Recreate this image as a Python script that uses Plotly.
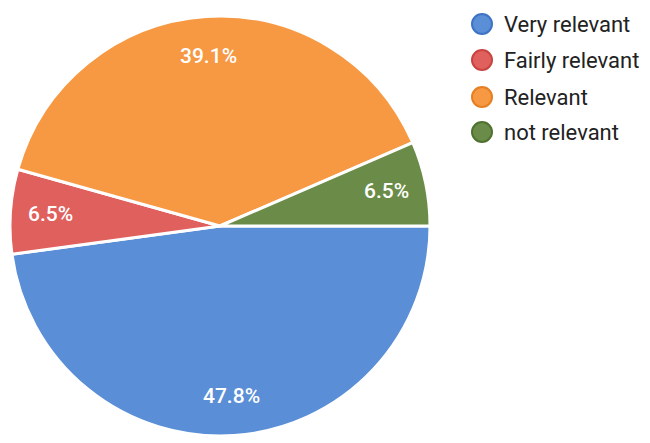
import math
import plotly.graph_objects as go

categories = ["Very relevant", "Fairly relevant", "Relevant", "not relevant"]
values = [47.8, 6.5, 39.1, 6.5]
colors = ["#5a8ed6", "#e0605e", "#f79842", "#6a8c48"]
outline = ["#3f72c4", "#c84440", "#e67e22", "#4f7230"]

W, H = 650, 443
OFF = 8  # page body margin offset in pixels
cx, cy, R = 220 - OFF, 226 - OFF, 210  # pixel center/radius of pie
start_deg = 90  # first slice starts at 3 o'clock, clockwise

fig = go.Figure()
fig.add_trace(go.Pie(
    labels=categories, values=values, sort=False, direction="clockwise",
    rotation=start_deg, textinfo="none", hoverinfo="label+percent",
    marker=dict(colors=colors, line=dict(color="white", width=3)),
    domain=dict(x=[(cx - R) / W, (cx + R) / W], y=[(H - cy - R) / H, (H - cy + R) / H]),
    showlegend=False,
))

annotations = []
total = sum(values)
acc = 0.0
for v in values:
    mid = start_deg + (acc + v / 2) / total * 360.0
    acc += v
    r = 0.81 * R
    px = cx + r * math.sin(math.radians(mid))
    py = cy - r * math.cos(math.radians(mid))
    annotations.append(dict(
        x=px / W, y=1 - py / H, xref="paper", yref="paper", showarrow=False,
        xanchor="center", yanchor="middle",
        text=f"{v / total * 100:.1f}%",
        font=dict(family="Roboto", size=21, color="white", weight=500),
    ))

shapes = []
leg_y = [24, 60, 97, 132]
for i, name in enumerate(categories):
    y = leg_y[i] - OFF
    xc = 482 - OFF
    shapes.append(dict(
        type="circle", xref="paper", yref="paper",
        x0=(xc - 10) / W, x1=(xc + 10) / W, y0=1 - (y + 10) / H, y1=1 - (y - 10) / H,
        fillcolor=colors[i], line=dict(color=outline[i], width=2),
    ))
    annotations.append(dict(
        x=(502 - OFF) / W, y=1 - y / H, xref="paper", yref="paper", showarrow=False,
        xanchor="left", yanchor="middle", text=name,
        font=dict(family="Roboto", size=22, color="#222222"),
    ))

fig.update_layout(
    width=W, height=H, margin=dict(l=0, r=0, t=0, b=0),
    paper_bgcolor="white", plot_bgcolor="white",
    annotations=annotations, shapes=shapes,
)
fig.write_html("out.html")
